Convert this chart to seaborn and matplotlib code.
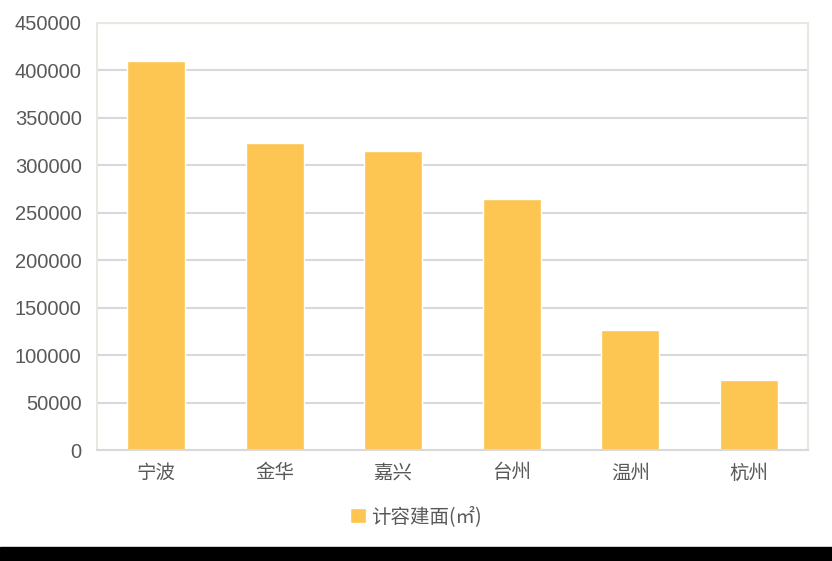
import matplotlib
matplotlib.use("Agg")
import matplotlib.pyplot as plt
import seaborn as sns
import pandas as pd
from matplotlib.patches import Rectangle

# === datos ===
ciudades = ["宁波", "金华", "嘉兴", "台州", "温州", "杭州"]
area = [409500, 324000, 315500, 265000, 126300, 74000]
serie = "计容建面(㎡)"

df = pd.DataFrame({"ciudad": ciudades, "area": area, "serie": serie})

sns.set_style("white")
plt.rcParams["font.family"] = ["Noto Sans CJK SC", "DejaVu Sans"]

fig = plt.figure(figsize=(8.32, 5.61), dpi=100)
ax = fig.add_axes([97 / 832, 1 - 450 / 561, 711 / 832, 427 / 561])

sns.barplot(data=df, x="ciudad", y="area", hue="serie", palette=["#FDC652"],
            width=0.49, saturation=1, ax=ax, legend=True)

ax.set_ylim(0, 450000)
ax.set_yticks(range(0, 450001, 50000))
ax.yaxis.grid(True, color="#D9D9D9", linewidth=1.5)
ax.set_axisbelow(True)
ax.set_xlabel("")
ax.set_ylabel("")
for s in ax.spines.values():
    s.set_color("#E8E8E2")
    s.set_linewidth(1.5)
ax.spines["bottom"].set_color("#D9D9D9")
ax.tick_params(axis="both", length=0, labelcolor="#595959")
ax.tick_params(axis="y", pad=11, labelsize=14.5)
ax.tick_params(axis="x", pad=9, labelsize=14)
for lbl in ax.get_yticklabels():
    lbl.set_family(["Liberation Sans", "DejaVu Sans"])

leg = ax.legend(loc="center", bbox_to_anchor=(0.5, 1 - 517 / 561), bbox_transform=fig.transFigure,
                frameon=False, fontsize=14, handlelength=0.8, handleheight=0.8, handletextpad=0.3)
for t in leg.get_texts():
    t.set_color("#595959")

# franja negra inferior
fig.add_artist(Rectangle((0, 0), 1, 14 / 561, transform=fig.transFigure, color="black"))

fig.savefig("out.png", dpi=100)
